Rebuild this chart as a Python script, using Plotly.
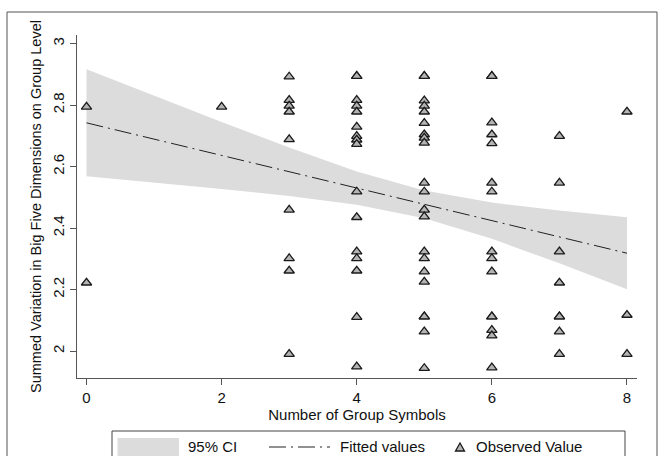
import plotly.graph_objects as go

# ---------------- data ----------------
obs_x = [0, 0,
         2,
         3, 3, 3, 3, 3, 3, 3, 3, 3,
         4, 4, 4, 4, 4, 4, 4, 4, 4, 4, 4, 4, 4, 4, 4, 4,
         5, 5, 5, 5, 5, 5, 5, 5, 5, 5, 5, 5, 5, 5, 5, 5, 5, 5, 5, 5, 5,
         6, 6, 6, 6, 6, 6, 6, 6, 6, 6, 6, 6, 6, 6, 6,
         7, 7, 7, 7, 7, 7, 7, 7,
         8, 8, 8]
obs_y = [2.794, 2.222,
         2.794,
         2.892, 2.816, 2.797, 2.778, 2.688, 2.459, 2.301, 2.261, 1.990,
         2.894, 2.894, 2.816, 2.797, 2.778, 2.729, 2.699, 2.687, 2.673, 2.518, 2.435, 2.323, 2.301, 2.261, 2.110, 1.949,
         2.894, 2.894, 2.814, 2.797, 2.778, 2.741, 2.704, 2.693, 2.677, 2.547, 2.518, 2.459, 2.437, 2.323, 2.301, 2.258, 2.225, 2.112, 2.112, 2.063, 1.944,
         2.894, 2.894, 2.743, 2.704, 2.675, 2.547, 2.518, 2.323, 2.301, 2.258, 2.112, 2.112, 2.068, 2.050, 1.946,
         2.699, 2.547, 2.323, 2.222, 2.112, 2.112, 2.063, 1.990,
         2.778, 2.117, 1.990]

fit_x = [0, 1, 2, 3, 4, 5, 6, 7, 8]
fit_y = [2.742, 2.689, 2.636, 2.583, 2.530, 2.477, 2.424, 2.371, 2.318]
ci_lo = [2.568, 2.548, 2.527, 2.504, 2.476, 2.432, 2.365, 2.285, 2.201]
ci_hi = [2.916, 2.830, 2.745, 2.662, 2.584, 2.522, 2.483, 2.457, 2.435]

x_ticks = [0, 2, 4, 6, 8]
x_tick_labels = ["0", "2", "4", "6", "8"]
y_ticks = [2.0, 2.2, 2.4, 2.6, 2.8, 3.0]
y_tick_labels = ["2", "2.2", "2.4", "2.6", "2.8", "3"]

x_title = "Number of Group Symbols"
y_title = "Summed Variation in Big Five Dimensions on Group Level"
legend_labels = ["95% CI", "Fitted values", "Observed Value"]

# ---------------- layout geometry ----------------
W, H = 659, 456
L, R, T, B = 77, 637, 35, 378
FONT = "Liberation Sans, Arial, sans-serif"
FS = 15
AX = "#555555"
BAND = "#dcdcdc"
DASH = "17px,5px,2px,5px"


def px2x(px):
    return (px - L) / (R - L)


def py2y(py):
    return (B - py) / (B - T)


fig = go.Figure()

fig.add_trace(go.Scatter(x=fit_x, y=ci_lo, mode="lines", line=dict(width=0, color=BAND),
                         hoverinfo="skip", showlegend=False))
fig.add_trace(go.Scatter(x=fit_x, y=ci_hi, mode="lines", line=dict(width=0, color=BAND),
                         fill="tonexty", fillcolor=BAND, name=legend_labels[0], showlegend=False))
fig.add_trace(go.Scatter(x=fit_x, y=fit_y, mode="lines",
                         line=dict(color="#222222", width=1, dash=DASH),
                         name=legend_labels[1], showlegend=False))
fig.add_trace(go.Scatter(x=obs_x, y=obs_y, mode="markers",
                         marker=dict(symbol="triangle-up", size=9, color="#b4b4b4",
                                     line=dict(color="#1a1a1a", width=1.3)),
                         name=legend_labels[2], showlegend=False))

shapes = []
# outer graph frame
shapes.append(dict(type="rect", xref="paper", yref="paper",
                   x0=px2x(7), x1=px2x(657), y0=py2y(480), y1=py2y(12),
                   line=dict(color="#555555", width=1), fillcolor="rgba(0,0,0,0)", layer="below"))
# legend box
shapes.append(dict(type="rect", xref="paper", yref="paper",
                   x0=px2x(112), x1=px2x(625), y0=py2y(463), y1=py2y(431),
                   line=dict(color="#444444", width=1), fillcolor="white", layer="above"))
# CI swatch
shapes.append(dict(type="rect", xref="paper", yref="paper",
                   x0=px2x(117.5), x1=px2x(179), y0=py2y(456), y1=py2y(438),
                   line=dict(width=0), fillcolor=BAND, layer="above"))
# fitted line sample
shapes.append(dict(type="line", xref="paper", yref="paper",
                   x0=px2x(269), x1=px2x(330), y0=py2y(447), y1=py2y(447),
                   line=dict(color="#222222", width=1, dash=DASH), layer="above"))
# triangle sample
tx, ty = 460, 447
path = "M {} {} L {} {} L {} {} Z".format(px2x(tx - 4.5), py2y(ty + 4), px2x(tx + 4.5), py2y(ty + 4),
                                            px2x(tx), py2y(ty - 4))
shapes.append(dict(type="path", xref="paper", yref="paper", path=path,
                   line=dict(color="#1a1a1a", width=1.3), fillcolor="#b4b4b4", layer="above"))

annotations = []
for txt, px in zip(legend_labels, [186, 338, 474]):
    annotations.append(dict(text=txt, xref="paper", yref="paper", x=px2x(px), y=py2y(447),
                            xanchor="left", yanchor="middle", showarrow=False,
                            font=dict(family=FONT, size=FS, color="#111111")))

fig.update_layout(
    width=W, height=H,
    margin=dict(l=L, r=W - R, t=T, b=H - B, pad=0),
    paper_bgcolor="white", plot_bgcolor="white",
    font=dict(family=FONT, size=FS, color="#111111"),
    showlegend=False,
    hovermode=False,
    shapes=shapes,
    annotations=annotations,
    xaxis=dict(range=[(L - 86.5) / 67.56, (R - 86.5) / 67.56],
               tickmode="array", tickvals=x_ticks, ticktext=x_tick_labels,
               showline=True, linecolor=AX, linewidth=1,
               ticks="outside", ticklen=6, tickcolor=AX, tickwidth=1,
               showgrid=False, zeroline=False,
               title=dict(text=x_title, standoff=4, font=dict(size=FS))),
    yaxis=dict(range=[2 - (B - 351) / 307.5, 2 + (351 - T) / 307.5],
               tickmode="array", tickvals=y_ticks, ticktext=y_tick_labels,
               tickangle=-90,
               showline=True, linecolor=AX, linewidth=1,
               ticks="outside", ticklen=6, tickcolor=AX, tickwidth=1,
               showgrid=False, zeroline=False,
               title=dict(text=y_title, standoff=4, font=dict(size=14.5))),
)

fig.write_html("out.html",
               config={"displayModeBar": False, "staticPlot": True},
               post_script="document.body.style.margin='0px';document.body.style.overflow='hidden';")
